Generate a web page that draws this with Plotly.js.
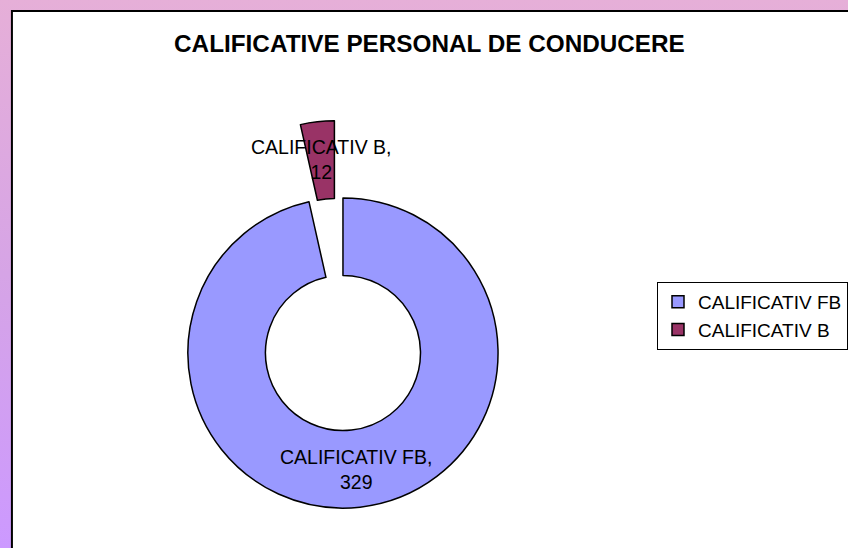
<!DOCTYPE html>
<html><head><meta charset="utf-8">
<script src="https://cdn.plot.ly/plotly-3.0.1.min.js"></script>
<style>
html,body{margin:0;padding:0;width:848px;height:548px;overflow:hidden;}
#wrap{width:848px;height:548px;overflow:hidden;background:linear-gradient(to bottom,#E6AFD8 0%,#D6A4E6 50%,#CC99FF 100%);}
#chart{width:848px;height:620px;}
</style></head><body><div id="wrap"><div id="chart"></div></div>
<script>
const categories = ['CALIFICATIV FB', 'CALIFICATIV B'];
const values = [329, 12];
const sliceColors = ['#9999FF', '#993366'];
const pulls = [0, 0.5];
const chartTitle = 'CALIFICATIVE PERSONAL DE CONDUCERE';

const FONT = 'Liberation Sans, Arial, sans-serif';
const W = 848, H = 620;
const cx = 345, cy = 353, R = 156, HOLE = 0.5;
const box = 2 * R * (1 + Math.max(...pulls));

const trace = {
  type: 'pie',
  labels: categories,
  values: values,
  sort: false,
  direction: 'clockwise',
  rotation: 0,
  hole: HOLE,
  pull: pulls,
  marker: {colors: sliceColors, line: {color: '#000000', width: 1.5}},
  textinfo: 'none',
  textposition: 'none',
  hoverinfo: 'none',
  domain: {
    x: [(cx - box / 2) / W, (cx + box / 2) / W],
    y: [1 - (cy + box / 2) / H, 1 - (cy - box / 2) / H]
  }
};

// data labels placed at the middle of each (pulled) ring sector
const total = values.reduce((a, b) => a + b, 0);
let cum = 0;
const annotations = values.map((v, i) => {
  const mid = (cum + v / 2) / total * 2 * Math.PI;
  cum += v;
  const rr = R * (1 + HOLE) / 2 + pulls[i] * R;
  const px = cx + rr * Math.sin(mid);
  const py = cy - rr * Math.cos(mid);
  return {
    xref: 'paper', yref: 'paper',
    x: px / W, y: 1 - py / H,
    xanchor: 'center', yanchor: 'middle',
    text: categories[i] + ',<br>' + v,
    showarrow: false,
    font: {family: FONT, size: 19.5, color: '#000000'}
  };
});

const layout = {
  width: W, height: H,
  margin: {l: 0, r: 0, t: 0, b: 0},
  paper_bgcolor: 'rgba(0,0,0,0)',
  plot_bgcolor: 'rgba(0,0,0,0)',
  font: {family: FONT, color: '#000000'},
  title: {
    text: chartTitle,
    x: 432 / W, xanchor: 'center', xref: 'paper',
    y: 1 - 43.5 / H, yanchor: 'middle', yref: 'paper',
    font: {family: FONT, size: 24.3, weight: 'bold', color: '#000000'}
  },
  showlegend: true,
  legend: {
    x: 661 / W, xanchor: 'left',
    y: 1 - 316 / H, yanchor: 'middle',
    bgcolor: '#FFFFFF', bordercolor: '#000000', borderwidth: 1,
    font: {family: FONT, size: 19, color: '#000000'}
  },
  annotations: annotations,
  shapes: [{
    type: 'rect', xref: 'paper', yref: 'paper', layer: 'below',
    x0: 12 / W, x1: 1.05, y0: 1 - 11 / H, y1: -0.1,
    fillcolor: '#FFFFFF', line: {color: '#000000', width: 2}
  }]
};

Plotly.newPlot('chart', [trace], layout, {displayModeBar: false, staticPlot: true});
</script></body></html>
